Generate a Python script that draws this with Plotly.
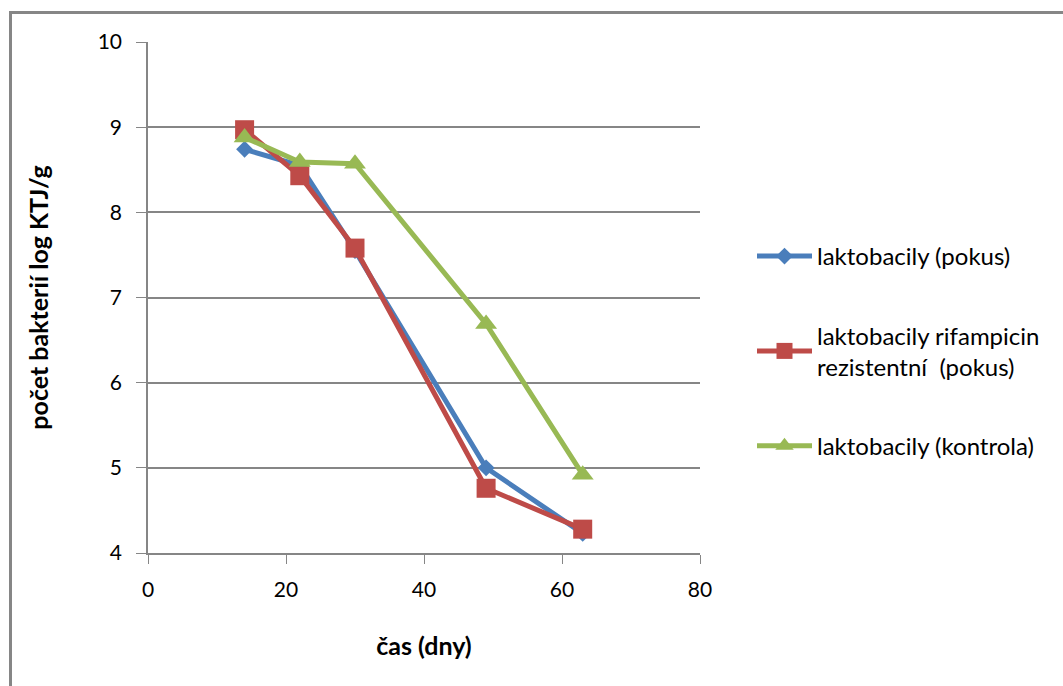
import plotly.graph_objects as go

days = [14, 22, 30, 49, 63]
pokus = [8.74, 8.55, 7.55, 5.0, 4.23]
rif = [8.97, 8.43, 7.58, 4.76, 4.28]
kontrola = [8.88, 8.59, 8.57, 6.69, 4.92]

names = ["laktobacily (pokus)", "laktobacily rifampicin<br>rezistentní  (pokus)", "laktobacily (kontrola)"]
colors = ["#4a7ebb", "#be4b48", "#98b954"]
symbols = ["diamond", "square", "triangle-up"]
sizes = [13, 19, 19]
series = [pokus, rif, kontrola]

fig = go.Figure()
for i, (vals, name, c, s, sz) in enumerate(zip(series, names, colors, symbols, sizes)):
    fig.add_trace(go.Scatter(x=days, y=vals, name=name, mode="lines+markers",
                             line=dict(color=c, width=5),
                             marker=dict(symbol=s, size=sz, color=c),
                             legendgroup=str(i)))

L, R, T, B = 148, 700, 42, 553
W, H = 1063, 686
def px(x): return (x - L) / (R - L)
def py(y): return (B - y) / (B - T)

font = "Lato, Carlito, Calibri, sans-serif"
fig.update_layout(
    width=W, height=H,
    margin=dict(l=L, r=W - R, t=T, b=H - B, pad=0),
    paper_bgcolor="white", plot_bgcolor="white",
    font=dict(family=font, size=21, color="#000000"),
    showlegend=True,
    legend=dict(x=px(752), y=py(234), xanchor="left", yanchor="top",
                itemwidth=55, tracegroupgap=45, font=dict(size=24),
                bgcolor="rgba(0,0,0,0)"),
    xaxis=dict(range=[0, 80], tickvals=[0, 20, 40, 60, 80], showgrid=False,
               showline=True, linecolor="#868686", linewidth=1.5,
               ticks="outside", ticklen=9, tickcolor="#868686", zeroline=False,
               ticklabelstandoff=8,
               title=dict(text="<b>čas (dny)</b>", font=dict(size=25), standoff=38),
               tickfont=dict(size=21)),
    yaxis=dict(range=[4, 10], tickvals=[4, 5, 6, 7, 8, 9, 10], showgrid=True,
               gridcolor="#868686", gridwidth=1.5,
               showline=True, linecolor="#868686", linewidth=1.5,
               ticks="outside", ticklen=10, tickcolor="#868686", zeroline=False,
               ticklabelstandoff=10,
               title=dict(text="<b>počet bakterií log KTJ/g</b>", font=dict(size=25), standoff=42),
               tickfont=dict(size=21)),
    shapes=[
        dict(type="line", xref="paper", yref="paper", x0=px(10.5), x1=px(10.5), y0=py(12), y1=py(690),
             line=dict(color="#868686", width=3)),
        dict(type="line", xref="paper", yref="paper", x0=px(9), x1=px(1070), y0=py(12.5), y1=py(12.5),
             line=dict(color="#868686", width=3)),
    ],
)

fig.write_html("out.html")
